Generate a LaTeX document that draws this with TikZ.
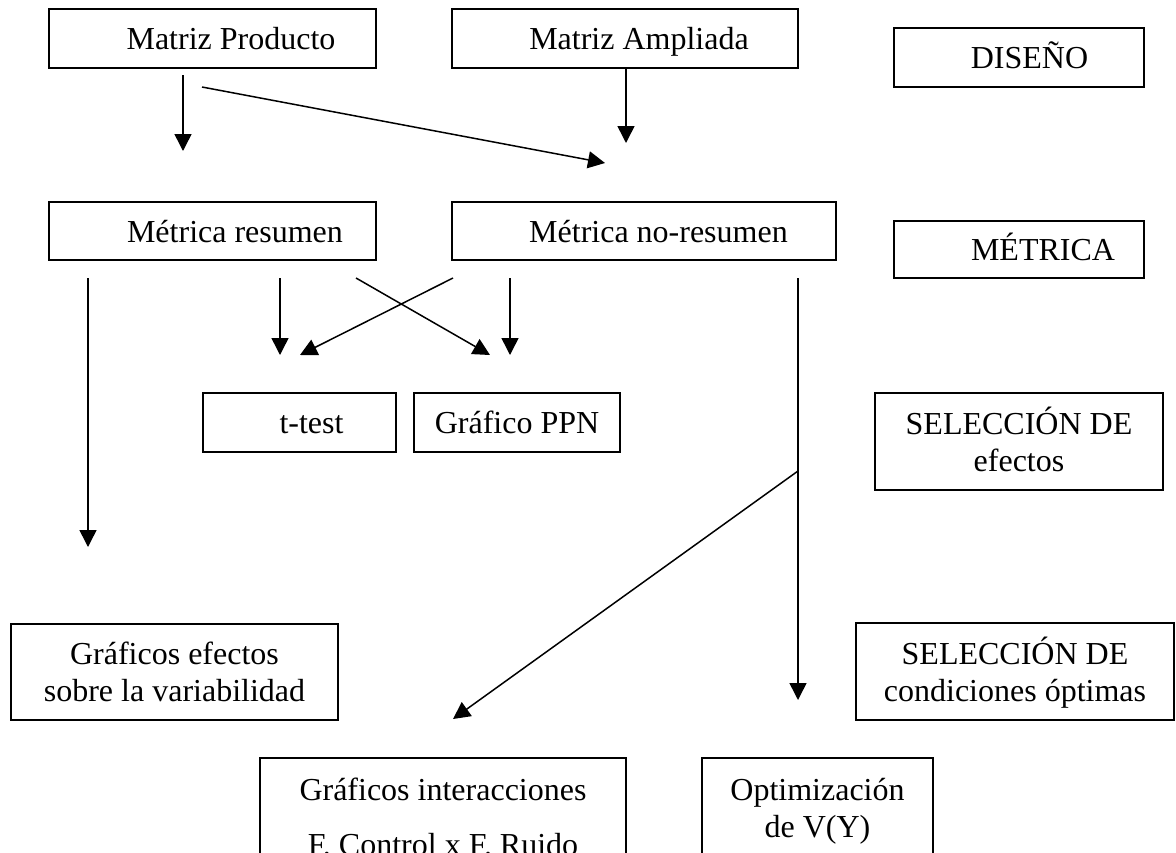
\documentclass[tikz,border=0pt]{standalone}
\usepackage{fontspec}
\setmainfont{Liberation Serif}
\usetikzlibrary{arrows.meta}

\begin{document}
\begin{tikzpicture}[x=1pt,y=1pt]
        \tikzstyle{every node}+=[inner sep=0pt]
        \tikzstyle{caja}=[draw=black, line width=1.6pt, rectangle, font=\fontsize{32pt}{37pt}\selectfont, text height=22pt, text depth=0pt]
        \tikzstyle{caja2}=[caja, align=center, text height=59pt]
        \tikzstyle{flecha}=[black, line width=1.5pt, -{Triangle[width=17pt,length=17pt]}]
        \useasboundingbox (0,0) rectangle (1176,-852);
        \clip (0,0) rectangle (1176,-852);
        % diseno
        \node [caja, minimum width=327pt, minimum height=59pt] (prod) at (212.5,-38.5) {\hspace*{37pt}Matriz Producto};
        \node [caja, minimum width=346pt, minimum height=59pt] (ampl) at (625,-38.5) {\hspace*{28pt}Matriz Ampliada};
        \node [caja, minimum width=250pt, minimum height=59pt] (diseno) at (1019,-57.5) {\hspace*{21pt}DISEÑO};
        % metrica
        \node [caja, minimum width=327pt, minimum height=58pt] (mres) at (212.5,-231) {\hspace*{45pt}Métrica resumen};
        \node [caja, minimum width=384pt, minimum height=58pt] (mnores) at (644,-231) {\hspace*{29pt}Métrica no-resumen};
        \node [caja, minimum width=250pt, minimum height=57pt] (metrica) at (1019,-249.5) {\hspace*{48pt}MÉTRICA};
        % seleccion de efectos
        \node [caja, minimum width=193pt, minimum height=59pt] (ttest) at (299.5,-422.5) {\hspace*{24pt}t-test};
        \node [caja, minimum width=206pt, minimum height=59pt] (ppn) at (517,-422.5) {Gráfico PPN};
        \node [caja2, minimum width=288pt, minimum height=97pt] (selef) at (1019,-441.5) {SELECCIÓN DE\\efectos};
        % condiciones optimas
        \node [caja2, minimum width=327pt, minimum height=96pt] (gef) at (174.5,-672) {Gráficos efectos\\sobre la variabilidad};
        \node [caja2, minimum width=318pt, minimum height=97pt] (selcond) at (1015,-671.5) {SELECCIÓN DE\\condiciones óptimas};
        \node [caja2, text height=77pt, minimum width=366pt, minimum height=118pt] (gint) at (443,-817) {Gráficos interacciones\\[18pt]F. Control x F. Ruido};
        \node [caja2, minimum width=231pt, minimum height=99pt] (optim) at (817.5,-807.5) {Optimización\\de V(Y)};
        % extremos libres de las flechas
        \coordinate (p1) at (183,-75);
        \coordinate (p2) at (183,-151);
        \coordinate (p3) at (202,-87);
        \coordinate (p4) at (605,-163);
        \coordinate (a1) at (626,-68);
        \coordinate (a2) at (626,-143);
        \coordinate (r1) at (88,-278);
        \coordinate (r2) at (88,-547);
        \coordinate (r3) at (280,-278);
        \coordinate (r4) at (280,-355);
        \coordinate (r5) at (356,-278);
        \coordinate (r6) at (490,-355);
        \coordinate (n1) at (453,-278);
        \coordinate (n2) at (300,-355);
        \coordinate (n3) at (510,-278);
        \coordinate (n4) at (510,-355);
        \coordinate (n5) at (798,-278);
        \coordinate (n6) at (798,-700);
        \coordinate (n7) at (798,-471);
        \coordinate (n8) at (453,-719);
        \draw [flecha] (p1) -- (p2);
        \draw [flecha] (p3) -- (p4);
        \draw [flecha] (a1) -- (a2);
        \draw [flecha] (r1) -- (r2);
        \draw [flecha] (r3) -- (r4);
        \draw [flecha] (r5) -- (r6);
        \draw [flecha] (n1) -- (n2);
        \draw [flecha] (n3) -- (n4);
        \draw [flecha] (n5) -- (n6);
        \draw [flecha] (n7) -- (n8);
\end{tikzpicture}
\end{document}
